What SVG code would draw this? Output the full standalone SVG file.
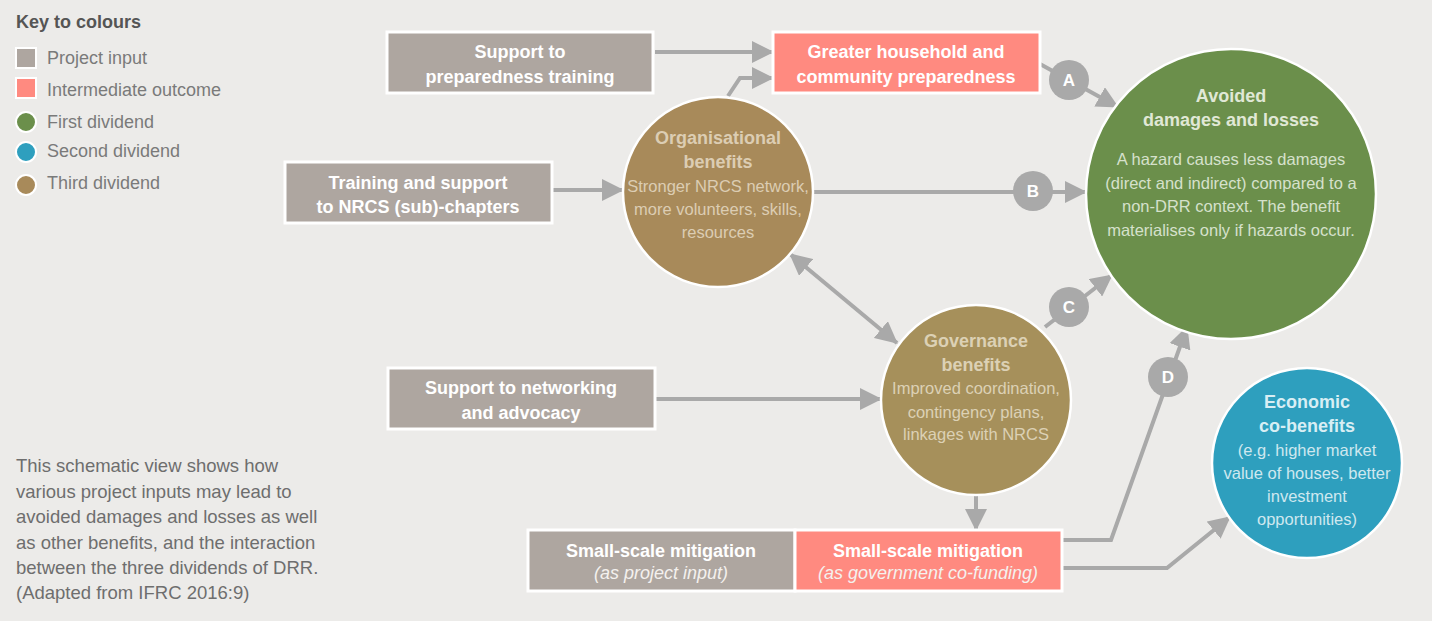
<svg xmlns="http://www.w3.org/2000/svg" width="1432" height="621" viewBox="0 0 1432 621">
<defs>
<marker id="ah" markerUnits="userSpaceOnUse" markerWidth="22" markerHeight="22" viewBox="0 0 22 22" refX="21" refY="11" orient="auto-start-reverse"><path d="M0,0 L22,11 L0,22 Z" fill="#A9A9A9"/></marker>
<style>
.bg{fill:#ECEBE9}
.conn{fill:none;stroke:#A9A9A9;stroke-width:4}
.inp{fill:#AEA6A0;stroke:#FFFFFF;stroke-width:3}
.mid{fill:#FF8A80;stroke:#FFFFFF;stroke-width:3}
.circ{stroke:#FFFFFF;stroke-width:2.5}
.bt{font-family:"Liberation Sans",Arial,sans-serif;font-weight:bold;font-size:18px;fill:#FFFFFF;text-anchor:middle}
.it{font-family:"Liberation Sans",Arial,sans-serif;font-style:italic;font-size:18px;fill:#F4F1EE;text-anchor:middle}
.ct{font-family:"Liberation Sans",Arial,sans-serif;font-weight:bold;font-size:18px;text-anchor:middle}
.cb{font-family:"Liberation Sans",Arial,sans-serif;font-size:16.5px;text-anchor:middle}
.lab{fill:#A9A9A9}
.lt{font-family:"Liberation Sans",Arial,sans-serif;font-weight:bold;font-size:17px;fill:#FFFFFF;text-anchor:middle}
.leg{font-family:"Liberation Sans",Arial,sans-serif;font-size:18px;fill:#7A7A7A}
.desc{font-family:"Liberation Sans",Arial,sans-serif;font-size:18.5px;fill:#6E6E6E}
</style>
</defs>
<rect class="bg" x="0" y="0" width="1432" height="621"/>

<g id="legend">
<text x="16" y="28" font-family="Liberation Sans, Arial, sans-serif" font-weight="bold" font-size="18" fill="#555555">Key to colours</text>
<rect x="16" y="48" width="20" height="20" fill="#AEA6A0" stroke="#FFFFFF" stroke-width="2"/>
<text class="leg" x="47" y="64">Project input</text>
<rect x="16" y="78" width="20" height="20" fill="#FF8A80" stroke="#FFFFFF" stroke-width="2"/>
<text class="leg" x="47" y="96">Intermediate outcome</text>
<circle cx="26" cy="122" r="10" fill="#6B8F4B" stroke="#FFFFFF" stroke-width="2"/>
<text class="leg" x="47" y="128">First dividend</text>
<circle cx="26" cy="152" r="10" fill="#2E9FBE" stroke="#FFFFFF" stroke-width="2"/>
<text class="leg" x="47" y="157">Second dividend</text>
<circle cx="26" cy="185" r="10" fill="#A88A5A" stroke="#FFFFFF" stroke-width="2"/>
<text class="leg" x="47" y="189">Third dividend</text>
</g>

<g id="description">
<text class="desc" x="16" y="472">This schematic view shows how</text>
<text class="desc" x="16" y="498">various project inputs may lead to</text>
<text class="desc" x="16" y="523">avoided damages and losses as well</text>
<text class="desc" x="16" y="549">as other benefits, and the interaction</text>
<text class="desc" x="16" y="574">between the three dividends of DRR.</text>
<text class="desc" x="16" y="599">(Adapted from IFRC 2016:9)</text>
</g>

<g id="connectors">
<path class="conn" d="M655,52 L773,52" marker-end="url(#ah)"/>
<path class="conn" d="M728,96 L740,78 L773,78" marker-end="url(#ah)"/>
<path class="conn" d="M552,190 L623,190" marker-end="url(#ah)"/>
<path class="conn" d="M655,399 L881,399" marker-end="url(#ah)"/>
<path class="conn" d="M790,254 L897,343" marker-start="url(#ah)" marker-end="url(#ah)"/>
<path class="conn" d="M1040,64 L1118,107" marker-end="url(#ah)"/>
<path class="conn" d="M813,192 L1086,192" marker-end="url(#ah)"/>
<path class="conn" d="M1045,327 L1112,275" marker-end="url(#ah)"/>
<path class="conn" d="M1062,540 L1111,540 L1187,327" marker-end="url(#ah)"/>
<path class="conn" d="M1062,568 L1167,568 L1230,517" marker-end="url(#ah)"/>
<path class="conn" d="M976,490 L976,530" stroke-width="7" marker-end="url(#ah)"/>
</g>

<g id="label-a"><circle class="lab" cx="1069" cy="80" r="20"/><text class="lt" x="1069" y="86">A</text></g>
<g id="label-b"><circle class="lab" cx="1033" cy="191" r="20"/><text class="lt" x="1033" y="197">B</text></g>
<g id="label-c"><circle class="lab" cx="1069" cy="307" r="20"/><text class="lt" x="1069" y="313">C</text></g>
<g id="label-d"><circle class="lab" cx="1168" cy="377" r="20"/><text class="lt" x="1168" y="383">D</text></g>

<g id="node-prep-training">
<rect class="inp" x="387" y="32" width="266" height="61"/>
<text class="bt" x="520" y="58">Support to</text>
<text class="bt" x="520" y="83">preparedness training</text>
</g>

<g id="node-preparedness">
<rect class="mid" x="773" y="32" width="267" height="61"/>
<text class="bt" x="906" y="58">Greater household and</text>
<text class="bt" x="906" y="83">community preparedness</text>
</g>

<g id="node-training-nrcs">
<rect class="inp" x="285" y="162" width="267" height="61"/>
<text class="bt" x="418" y="189">Training and support</text>
<text class="bt" x="418" y="213">to NRCS (sub)-chapters</text>
</g>

<g id="node-networking">
<rect class="inp" x="388" y="368" width="267" height="61"/>
<text class="bt" x="521" y="394">Support to networking</text>
<text class="bt" x="521" y="419">and advocacy</text>
</g>

<g id="node-org">
<circle class="circ" cx="718" cy="192" r="95" fill="#A88A5A"/>
<text class="ct" x="718" y="144" fill="#DCCDB3">Organisational</text>
<text class="ct" x="718" y="168" fill="#DCCDB3">benefits</text>
<text class="cb" x="718" y="192" fill="#DCCDB3">Stronger NRCS network,</text>
<text class="cb" x="718" y="215" fill="#DCCDB3">more volunteers, skills,</text>
<text class="cb" x="718" y="238" fill="#DCCDB3">resources</text>
</g>

<g id="node-gov">
<circle class="circ" cx="976" cy="400" r="95" fill="#A6905B"/>
<text class="ct" x="976" y="347" fill="#DCD1B5">Governance</text>
<text class="ct" x="976" y="371" fill="#DCD1B5">benefits</text>
<text class="cb" x="976" y="394" fill="#DCD1B5">Improved coordination,</text>
<text class="cb" x="976" y="418" fill="#DCD1B5">contingency plans,</text>
<text class="cb" x="976" y="440" fill="#DCD1B5">linkages with NRCS</text>
</g>

<g id="node-avoided">
<circle class="circ" cx="1231" cy="194" r="145" fill="#6B8F4B"/>
<text class="ct" x="1231" y="102" fill="#E0E8D6">Avoided</text>
<text class="ct" x="1231" y="126" fill="#E0E8D6">damages and losses</text>
<text class="cb" x="1231" y="165" fill="#D6E1CB">A hazard causes less damages</text>
<text class="cb" x="1231" y="189" fill="#D6E1CB">(direct and indirect) compared to a</text>
<text class="cb" x="1231" y="212" fill="#D6E1CB">non-DRR context. The benefit</text>
<text class="cb" x="1231" y="236" fill="#D6E1CB">materialises only if hazards occur.</text>
</g>

<g id="node-economic">
<circle class="circ" cx="1307" cy="463" r="95" fill="#2E9FBE"/>
<text class="ct" x="1307" y="408" fill="#D8EEF4">Economic</text>
<text class="ct" x="1307" y="432" fill="#D8EEF4">co-benefits</text>
<text class="cb" x="1307" y="456" fill="#CFE8EF">(e.g. higher market</text>
<text class="cb" x="1307" y="479" fill="#CFE8EF">value of houses, better</text>
<text class="cb" x="1307" y="502" fill="#CFE8EF">investment</text>
<text class="cb" x="1307" y="525" fill="#CFE8EF">opportunities)</text>
</g>

<g id="node-mitigation-input">
<rect class="inp" x="528" y="530" width="267" height="61"/>
<text class="bt" x="661" y="557">Small-scale mitigation</text>
<text class="it" x="661" y="579">(as project input)</text>
</g>

<g id="node-mitigation-gov">
<rect class="mid" x="795" y="530" width="267" height="61"/>
<text class="bt" x="928" y="557">Small-scale mitigation</text>
<text class="it" x="928" y="579">(as government co-funding)</text>
</g>
</svg>
